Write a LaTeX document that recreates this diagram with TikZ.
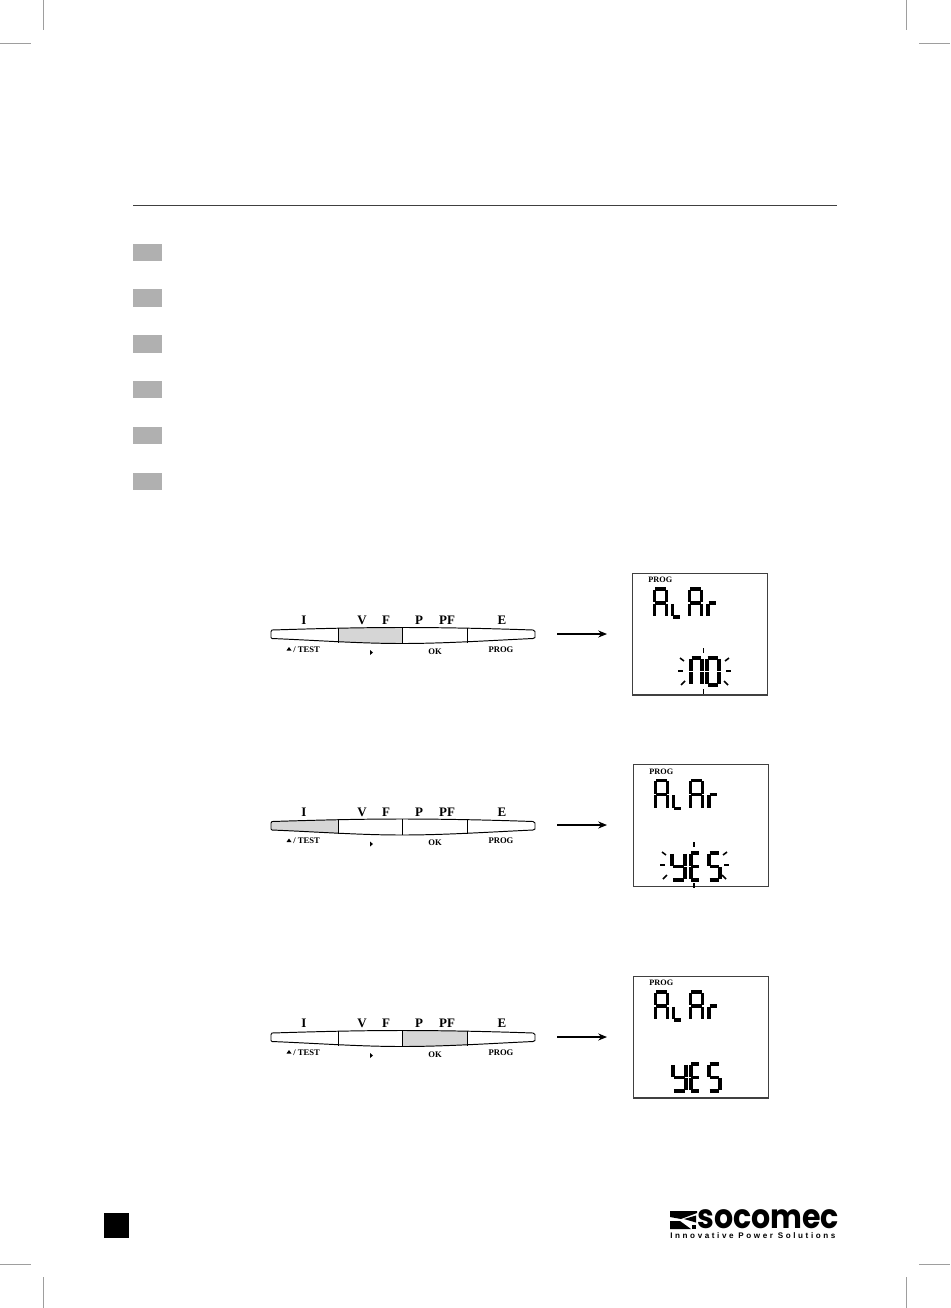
\documentclass[tikz,border=0pt]{standalone}
\usepackage{fontspec}
\setmainfont{Liberation Serif}
\newfontfamily\logofont{Poppins}
\newfontfamily\tagfont[LetterSpace=32]{Liberation Sans}
\usetikzlibrary{arrows.meta}
\tikzset{
  cropmark/.style={draw=black!38, line width=0.55pt},
  rowmark/.style={fill=black!31, draw=none, minimum width=0.57cm, minimum height=0.35cm, inner sep=0pt},
  keytop/.style={font=\bfseries\fontsize{7.4}{8}\selectfont, inner sep=0pt},
  keysub/.style={font=\bfseries\fontsize{4.9}{6}\selectfont, inner sep=0pt},
  keyedge/.style={draw=black, line width=0.55pt},
  lcdseg/.style={line width=1.8pt, line cap=butt, black},
  lcdray/.style={line width=0.9pt, black},
  goesto/.style={-{Stealth[length=5pt,width=4pt]}, line width=0.6pt}
}
% one digit: x, y, width, height, segments
\newcommand{\lcdchar}[5]{
  \begin{scope}[shift={(#1,#2)}, xscale=#3/10, yscale=#4/20]
    \foreach \s in {#5}{\draw[lcdseg] \csname seg\s\endcsname;}
  \end{scope}
}
\def\sega{(0.6,0) -- (9.4,0)}
\def\segb{(10,0.6) -- (10,9.4)}
\def\segc{(10,10.6) -- (10,19.4)}
\def\segd{(0.6,20) -- (9.4,20)}
\def\sege{(0,10.6) -- (0,19.4)}
\def\segf{(0,0.6) -- (0,9.4)}
\def\segg{(0.6,10) -- (9.4,10)}
% outline of the key bar about y
\newcommand{\keyshape}[1]{
  (272,#1-4.5) .. controls (320,#1-6) and (360,#1-7) .. (402,#1-7) .. controls (445,#1-7) and (490,#1-6) .. (533,#1-4.5)
    -- (535,#1-3) -- (535,#1+3) -- (533,#1+4)
    .. controls (490,#1+6) and (445,#1+9) .. (402,#1+9) .. controls (360,#1+9) and (320,#1+6) .. (272,#1+4)
    -- (271,#1+3) -- (271,#1-3) -- cycle
}
% keypad: y of the bar centre, x of left and right end of the grey key
\newcommand{\keypad}[4]{
  \begin{scope}
    \clip \keyshape{#1};
    \fill[black!16] (#2,#1-12) rectangle (#3,#1+12);
  \end{scope}
  \draw[keyedge] \keyshape{#1};
  \draw[keyedge] (338,#1-6.5) -- (338,#1+8);
  \draw[keyedge] (402,#1-7) -- (402,#1+9);
  \draw[keyedge] (467,#1-6.5) -- (467,#1+8);
  \node[keytop] (keyI#4) at (304,#1-14) {I};
  \node[keytop] (keyV#4) at (362,#1-14) {V};
  \node[keytop] (keyF#4) at (386,#1-14) {F};
  \node[keytop] (keyP#4) at (419,#1-14) {P};
  \node[keytop] (keyPF#4) at (447,#1-14) {PF};
  \node[keytop] (keyE#4) at (502,#1-14) {E};
  \fill (286.5,#1+16) -- (289,#1+12.5) -- (291.5,#1+16) -- cycle;
  \node[keysub, anchor=west] (keyT#4) at (293,#1+15) {/ TEST};
  \fill (370,#1+15.5) -- (373,#1+18) -- (370,#1+20.5) -- cycle;
  \node[keysub] (keyO#4) at (435,#1+17) {OK};
  \node[keysub] (keyG#4) at (501,#1+15) {PROG};
}
% lcd frame with the upper word: left, top, number
\newcommand{\lcdframe}[3]{
  \node[draw=black!75, line width=0.6pt, minimum width=2.7cm, minimum height=2.44cm, inner sep=0pt, anchor=north west] (lcd#3) at (#1,#2) {};
  \node[font=\bfseries\fontsize{4.7}{6}\selectfont, inner sep=0pt, anchor=west] (prog#3) at (#1+16,#2+7.5) {PROG};
  \lcdchar{#1+22.5}{#2+16.5}{12}{28}{a,b,c,e,f,g}
  \lcdchar{#1+40.5}{#2+16.5}{8}{28}{e,d}
  \lcdchar{#1+57.5}{#2+16.5}{12}{28}{a,b,c,e,f,g}
  \lcdchar{#1+76}{#2+16.5}{9}{28}{e,g}
}
% blinking rays about a word: left, middle y, middle x, right
\newcommand{\lcdrays}[4]{
  \draw[lcdray] (#3,#2-23) -- (#3,#2-18);
  \draw[lcdray] (#3,#2+18) -- (#3,#2+23);
  \draw[lcdray] (#1,#2) -- (#1+5,#2);
  \draw[lcdray] (#4-5,#2) -- (#4,#2);
  \draw[lcdray] (#1+2,#2-13) -- (#1+6,#2-10);
  \draw[lcdray] (#4-2,#2-13) -- (#4-6,#2-10);
  \draw[lcdray] (#1+3,#2+14) -- (#1+7,#2+10);
  \draw[lcdray] (#4-3,#2+14) -- (#4-7,#2+10);
}
\begin{document}
\begin{tikzpicture}[x=0.02cm, y=-0.02cm]
  \useasboundingbox[fill=white] (0,0) rectangle (950,1308);
  % crop marks
  \draw[cropmark] (43,0) -- (43,30);
  \draw[cropmark] (0,43) -- (31,43);
  \draw[cropmark] (906,0) -- (906,30);
  \draw[cropmark] (919,43) -- (950,43);
  \draw[cropmark] (0,1264) -- (31,1264);
  \draw[cropmark] (43,1277) -- (43,1308);
  \draw[cropmark] (919,1264) -- (950,1264);
  \draw[cropmark] (906,1277) -- (906,1308);
  % head rule and grey marks
  \draw[black!75, line width=0.5pt] (133,205.5) -- (837,205.5);
  \foreach \i/\y in {1/252.5, 2/298, 3/344, 4/389.5, 5/435.5, 6/481.5}
    \node[rowmark] (mark\i) at (147.5,\y) {};
  % keypads
  \keypad{634.5}{338}{402}{1}
  \keypad{826}{271}{338}{2}
  \keypad{1037.5}{402}{467}{3}
  % screens
  \lcdframe{632}{572.5}{1}
  \lcdframe{633}{764}{2}
  \lcdframe{633}{975.5}{3}
  \coordinate (from1) at (557,634);
  \coordinate (to1) at (607,634);
  \coordinate (from2) at (557,825);
  \coordinate (to2) at (607,825);
  \coordinate (from3) at (557,1037);
  \coordinate (to3) at (607,1037);
  \draw[goesto] (from1) -- (to1);
  \draw[goesto] (from2) -- (to2);
  \draw[goesto] (from3) -- (to3);
  % no
  \lcdchar{691}{658}{11}{27}{a,b,c,e,f}
  \lcdchar{707}{658}{12}{27}{a,b,c,d,e,f}
  \lcdrays{678}{671}{703.5}{731}
  % YES blinking
  \lcdchar{672}{853}{13}{27}{b,c,d,f,g}
  \lcdchar{691}{853}{8}{27}{a,d,e,f,g}
  \lcdchar{709}{853}{11}{27}{a,c,d,f,g}
  \lcdrays{660}{865}{694}{729}
  % YES
  \lcdchar{673}{1064}{13}{27}{b,c,d,f,g}
  \lcdchar{691}{1064}{8}{27}{a,d,e,f,g}
  \lcdchar{709}{1064}{11}{27}{a,c,d,f,g}
  % page mark and logo
  \node[fill=black, minimum size=0.5cm, inner sep=0pt] (pagebox) at (116.5,1225.5) {};
  \fill (670,1211) -- (697,1211) -- (697,1213) -- (681,1219) -- (670,1217) -- cycle;
  \fill (684,1219) -- (696,1215.5) -- (696,1222.5) -- cycle;
  \fill (670,1221) -- (680,1221) -- (691,1229) -- (670,1229) -- cycle;
  \fill (692,1225) -- (696,1225) -- (696,1229) -- (692,1229) -- cycle;
  \node[font=\logofont\bfseries\fontsize{19}{20}\selectfont, inner sep=0pt, anchor=base west] (socomec) at (697,1228) {\scalebox{0.9}[1]{socomec}};
  \node[font=\tagfont\bfseries\fontsize{4.6}{6}\selectfont, inner sep=0pt, anchor=west] (slogan) at (670,1236) {Innovative Power Solutions};
\end{tikzpicture}
\end{document}
